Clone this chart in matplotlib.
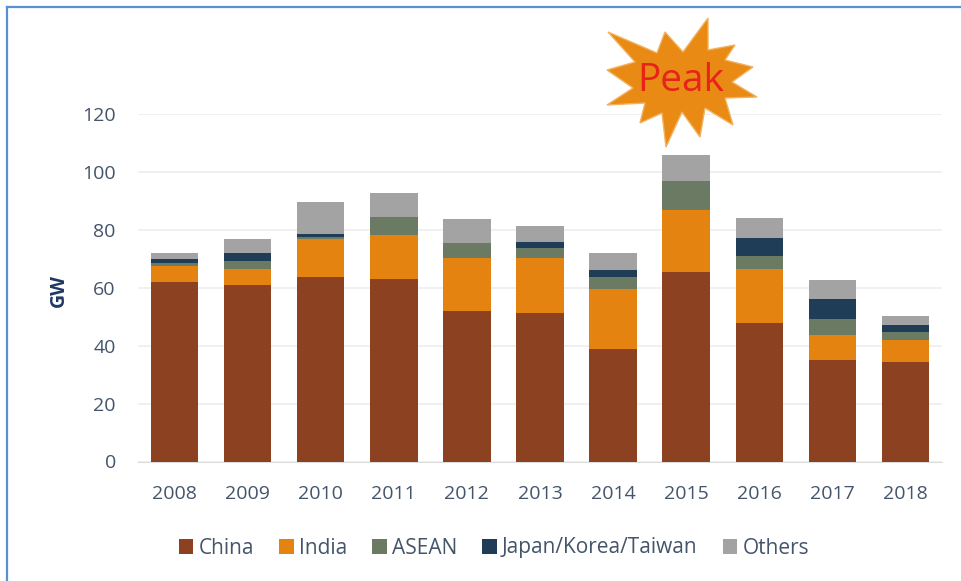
import matplotlib
matplotlib.use('Agg')
import matplotlib.pyplot as plt
from matplotlib.lines import Line2D
from matplotlib.patches import Polygon
import numpy as np

plt.rcParams['font.family'] = ['Open Sans', 'DejaVu Sans']

years = [2008, 2009, 2010, 2011, 2012, 2013, 2014, 2015, 2016, 2017, 2018]
china = [62.0, 61.0, 63.8, 63.0, 52.0, 51.4, 39.0, 65.3, 47.9, 35.0, 34.4]
india = [5.6, 5.6, 13.0, 15.2, 18.2, 18.8, 20.7, 21.7, 18.7, 8.8, 7.6]
asean = [1.0, 2.7, 0.6, 6.3, 5.2, 3.6, 4.1, 9.9, 4.4, 5.5, 2.8]
jkt = [1.4, 2.7, 1.1, 0.0, 0.0, 2.0, 2.2, 0.0, 6.3, 6.7, 2.4]
others = [2.0, 5.0, 11.0, 8.3, 8.4, 5.5, 6.0, 8.8, 6.7, 6.6, 3.1]

series_names = ['China', 'India', 'ASEAN', 'Japan/Korea/Taiwan', 'Others']
series_colors = ['#8c4220', '#e4830f', '#6b7a62', '#1f3d56', '#a3a3a3']
yticks = [0, 20, 40, 60, 80, 100, 120]

# star outline in figure pixels
star_px = [(608, 32), (657, 53), (665, 32), (683, 52), (708, 18), (708, 50), (735, 45),
           (725, 60), (753, 67), (732, 82), (757, 97), (725, 98), (733, 125), (705, 108),
           (700, 137), (682, 112), (666, 147), (662, 113), (640, 123), (645, 103), (607, 105),
           (633, 88), (607, 70), (635, 62)]

W, H = 961, 581
fig = plt.figure(figsize=(W / 100, H / 100), dpi=100, facecolor='white')


def px_box(left, top, right, bottom):
    return [left / W, 1 - bottom / H, (right - left) / W, (bottom - top) / H]


ax = fig.add_axes(px_box(138, 114, 942, 461.5))
x = np.arange(len(years))
bottom = np.zeros(len(years))
handles = []
for vals, name, col in zip([china, india, asean, jkt, others], series_names, series_colors):
    b = ax.bar(x, vals, width=0.65, bottom=bottom, color=col, label=name, zorder=3)
    handles.append(b)
    bottom += np.array(vals)

ax.set_xlim(-0.5, len(years) - 0.5)
ax.set_ylim(0, 120)
ax.set_yticks(yticks)
ax.set_xticks(x)
ax.set_xticklabels(years)
ax.tick_params(length=0, labelsize=14, labelcolor='#44546a')
ax.tick_params(axis='x', pad=17)
ax.tick_params(axis='y', pad=16)
ax.grid(axis='y', color='#eeeeee', linewidth=1.2, zorder=0)
for s in ['top', 'right', 'left']:
    ax.spines[s].set_visible(False)
ax.spines['bottom'].set_color('#dddddd')
ax.yaxis.set_label_coords(59 / W, 1 - 287 / H, transform=fig.transFigure)
ax.set_ylabel('GW', fontsize=14, fontweight='bold', color='#1f3864', va='center')

fig.legend(handles=handles, loc='center', bbox_to_anchor=(494 / W, 1 - 548 / H), ncol=5,
           frameon=False, fontsize=15, labelcolor='#44546a', handlelength=0.7, handleheight=0.7,
           handletextpad=0.25, columnspacing=1.2)

# the frame only shows along the top and left of the picture
frame_color = '#5b8fd0'
fig.add_artist(Line2D([7 / W, 1], [1 - 7 / H, 1 - 7 / H], transform=fig.transFigure,
                      color=frame_color, linewidth=1.6))
fig.add_artist(Line2D([7 / W, 7 / W], [0, 1 - 7 / H], transform=fig.transFigure,
                      color=frame_color, linewidth=1.6))

star = [(px / W, 1 - py / H) for px, py in star_px]
fig.add_artist(Polygon(star, closed=True, transform=fig.transFigure, facecolor='#e98a14',
                       edgecolor='#f2b25e', linewidth=1, zorder=5))
fig.text(681 / W, 1 - 81 / H, 'Peak', color='#e8231a', fontsize=28, ha='center', va='center',
         zorder=6)

fig.savefig('out.png', dpi=100)
